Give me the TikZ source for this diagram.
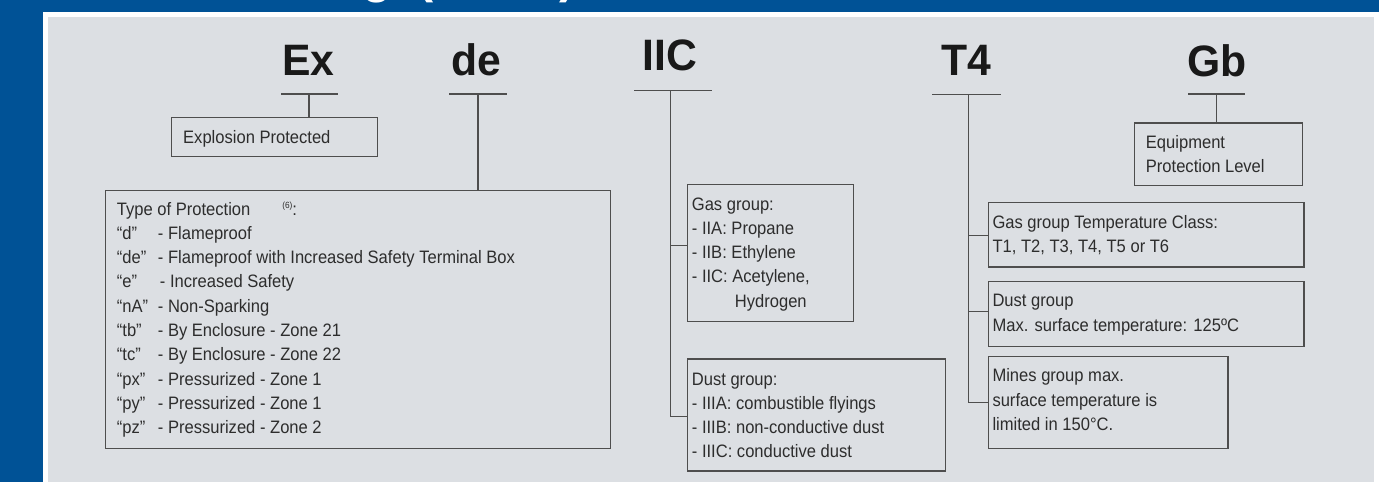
\documentclass[tikz,border=0pt]{standalone}
\usepackage{fontspec}
\setmainfont{Liberation Sans}[FakeStretch=0.92]
\newfontfamily\headfont{Liberation Sans}[FakeStretch=0.97]
\definecolor{bluebg}{RGB}{0,82,150}
\definecolor{graybg}{RGB}{220,223,227}
\definecolor{linec}{RGB}{78,78,78}
\definecolor{textc}{RGB}{45,45,45}
\definecolor{headc}{RGB}{25,25,25}
\newcommand{\code}[1]{\makebox[41pt][l]{#1}}
\tikzset{
  box/.style={draw=linec, line width=1.4pt, inner sep=0pt, anchor=north west},
  txt/.style={anchor=base west, inner sep=0pt, text=textc, font=\fontsize{18}{24.3}\selectfont},
  head/.style={anchor=base, inner sep=0pt, text=headc, font=\headfont\bfseries\fontsize{44}{44}\selectfont},
  conn/.style={draw=linec, line width=1.4pt},
  titletext/.style={inner sep=0pt, text=white, font=\headfont\bfseries\fontsize{50}{50}\selectfont},
}
\begin{document}
\begin{tikzpicture}[x=1pt,y=-1pt]
\useasboundingbox (0,0) rectangle (1379,482);
\fill[white] (0,0) rectangle (1379,482);
\fill[bluebg] (0,0) rectangle (1379,12);
\fill[bluebg] (0,0) rectangle (43,482);
\fill[graybg] (48,17) rectangle (1374,482);
% clipped title (only its lowest fragments show)
\begin{scope}
\clip (0,0) rectangle (1379,12);
\node[titletext, anchor=base east] (t1) at (392,-7.5) {Marking};
\node[titletext, anchor=base west] (t2) at (417,-7.5) {(ATEX)};
\end{scope}

% headings
\node[head] (ex) at (308.5,75) {Ex};
\node[head] (de) at (476,75) {de};
\node[head] (iic) at (669.7,70.7) {IIC};
\node[head] (t4) at (966.3,75) {T4};
\node[head] (gb) at (1217,76) {Gb};

% boxes
\node[box, minimum width=206pt, minimum height=39pt] (ep) at (171,117) {};
\node[box, minimum width=505pt, minimum height=258pt] (tp) at (105,190) {};
\node[box, minimum width=166.3pt, minimum height=136.7pt] (gas) at (686.7,184) {};
\node[box, minimum width=258.3pt, minimum height=112pt] (dust) at (686.7,358.3) {};
\node[box, minimum width=168pt, minimum height=62.7pt] (epl) at (1134,122.3) {};
\node[box, minimum width=315.6pt, minimum height=64.3pt] (temp) at (987.7,202) {};
\node[box, minimum width=315.6pt, minimum height=65.2pt] (dust2) at (987.7,280.5) {};
\node[box, minimum width=239.6pt, minimum height=91.5pt] (mines) at (987.7,356) {};

% texts
\node[txt] (epT) at (183,143.3) {Explosion Protected};
\node[txt] (tpT) at (116.7,215) {\begin{tabular}[t]{@{}l@{}}
Type of Protection\hspace{32pt}\raisebox{7pt}{\fontsize{9}{9}\selectfont(6)}:\\
\code{“d”}- Flameproof\\
\code{“de”}- Flameproof with Increased Safety Terminal Box\\
\code{“e”}\hspace{2pt}- Increased Safety\\
\code{“nA”}- Non-Sparking\\
\code{“tb”}- By Enclosure - Zone 21\\
\code{“tc”}- By Enclosure - Zone 22\\
\code{“px”}- Pressurized - Zone 1\\
\code{“py”}- Pressurized - Zone 1\\
\code{“pz”}- Pressurized - Zone 2
\end{tabular}};
\node[txt] (gasT) at (691.7,210) {\begin{tabular}[t]{@{}l@{}}
Gas group:\\
- IIA: Propane\\
- IIB: Ethylene\\
- IIC: Acetylene,\\
\hspace{43pt}Hydrogen
\end{tabular}};
\node[txt] (dustT) at (691.7,385) {\begin{tabular}[t]{@{}l@{}}
Dust group:\\
- IIIA: combustible flyings\\
- IIIB: non-conductive dust\\
- IIIC: conductive dust
\end{tabular}};
\node[txt] (eplT) at (1145.7,148) {\begin{tabular}[t]{@{}l@{}}
Equipment\\
Protection Level
\end{tabular}};
\node[txt] (tempT) at (992.3,228.3) {\begin{tabular}[t]{@{}l@{}}
Gas group Temperature Class:\\
T1, T2, T3, T4, T5 or T6
\end{tabular}};
\node[txt] (dust2T) at (992.3,306.7) {\begin{tabular}[t]{@{}l@{}}
Dust group\\
Max. surface temperature: 125ºC
\end{tabular}};
\node[txt] (minesT) at (992.3,381.7) {\begin{tabular}[t]{@{}l@{}}
Mines group max.\\
surface temperature is\\
limited in 150°C.
\end{tabular}};

% connectors
\coordinate (exL) at (281,94); \coordinate (exR) at (338,94); \coordinate (exM) at (309,94);
\draw[conn] (exL) -- (exR);
\draw[conn] (exM) -- (exM |- ep.north);

\coordinate (deL) at (449,94); \coordinate (deR) at (507,94); \coordinate (deM) at (478,94);
\draw[conn] (deL) -- (deR);
\draw[conn] (deM) -- (deM |- tp.north);

\coordinate (iicL) at (634,90.7); \coordinate (iicR) at (712,90.7); \coordinate (iicM) at (670.7,90.7);
\coordinate (iicTurn) at (670.7,416.7); \coordinate (gasJ) at (670.7,245.7);
\draw[conn] (iicL) -- (iicR);
\draw[conn] (iicM) -- (iicTurn) -- (iicTurn -| dust.west);
\draw[conn] (gasJ) -- (gasJ -| gas.west);

\coordinate (t4L) at (932,94.3); \coordinate (t4R) at (1001,94.3); \coordinate (t4M) at (968.7,94.3);
\coordinate (t4Turn) at (968.7,402.7); \coordinate (tempJ) at (968.7,235.7); \coordinate (dustJ) at (968.7,311.3);
\draw[conn] (t4L) -- (t4R);
\draw[conn] (t4M) -- (t4Turn) -- (t4Turn -| mines.west);
\draw[conn] (tempJ) -- (tempJ -| temp.west);
\draw[conn] (dustJ) -- (dustJ -| dust2.west);

\coordinate (gbL) at (1188,94); \coordinate (gbR) at (1245,94); \coordinate (gbM) at (1216.7,94);
\draw[conn] (gbL) -- (gbR);
\draw[conn] (gbM) -- (gbM |- epl.north);
\end{tikzpicture}
\end{document}
